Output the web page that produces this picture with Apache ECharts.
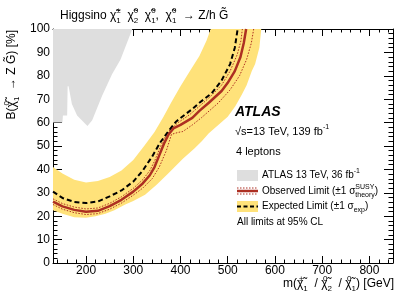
<!DOCTYPE html>
<html><head><meta charset="utf-8">
<script src="https://cdn.jsdelivr.net/npm/echarts@6/dist/echarts.min.js"></script>
<style>html,body{margin:0;padding:0;background:#fff}#c{width:407px;height:292px}</style>
</head><body><div id="c"></div>
<script>
// ---- data ----
const xTicks = [200, 300, 400, 500, 600, 700, 800];
const yTicks = [0, 10, 20, 30, 40, 50, 60, 70, 80, 90, 100];

const obsMass = [130,150,175,200,225,250,275,300,320,335,345,355,365,375,385,400,425,440,460,487,500,515,527,534,539];
const obsBR   = [26.2,24.2,22.7,21.9,22.3,24.3,27,30.5,34,37.5,41,46,51,55,57.5,59,62,65,68.5,73.5,77,82,88,94,100];

const thUpMass = [130,150,175,200,225,250,275,300,320,335,345,355,365,378,395,420,440,460,487,505,520,528,531];
const thUpBR   = [27.4,25.4,23.9,23.1,23.5,25.5,28.3,31.9,35.6,39.5,43.5,48.5,53,57,60,63.5,67,70.5,76,82,89,95,100];

const thDnMass = [130,150,175,200,225,250,275,300,320,340,355,370,381,395,405,425,445,480,505,525,540,550,555];
const thDnBR   = [25,23,21.5,20.7,21.1,23,25.6,29,32,36,41,48,55,55.8,56.2,59,62.2,68.4,74,80,87,94,100];

const expMass = [130,150,175,200,225,250,275,300,320,340,357,375,391,410,425,440,466,487,505,515,521];
const expBR   = [30.5,27.8,26.1,25.6,26.3,28.5,31,34.8,39.5,45.5,51.5,56.5,60.5,63.5,65.8,68.5,72.5,78,85,92,100];

const bandUpMass = [130,150,175,200,225,250,275,300,323,345,364,380,400,420,440,455,464];
const bandUpBR   = [41,38.3,35.6,34.4,35,36.8,39.5,44,50,56,62.5,68.5,75.5,82,88.5,95,100];
const bandDnMass = [571,567,558,551,540,530,516,500,480,460,445,430,405,375,350,325,300,283,260,241,220,200,175,150,130];
const bandDnBR   = [100,92,85,82,76,72,67,62.5,59,55.5,52,49,44.5,38.5,33.5,29.2,26.5,25,22.5,21,20,19.3,19.6,21,22.5];

const greyMass = [130,150,151,160,161,163,170,181,203,213,234,255,273,298,130];
const greyBR   = [60,60,63,63,75.5,75.5,68,63,58.5,61,71.5,80.7,87,100,100];

// ---- chart ----
const F = 'Liberation Sans, Arial, Helvetica, sans-serif';
const RED = '#ad2f22';
const YEL = '#ffe27a';
const GREY = '#dedede';

function pairs(a, b) { return a.map((v, i) => [v, b[i]]); }
function polygon(points, color, z) {
  return {
    type: 'custom', z: z, silent: true, animation: false,
    data: [[500, 50]],
    renderItem: (params, api) => ({
      type: 'polygon',
      shape: { points: points.map(p => api.coord(p)) },
      style: { fill: color, stroke: null }
    })
  };
}
function rich(fs) {
  return {
    n:  { fontSize: fs, fontFamily: F, color: '#000', lineHeight: Math.round(fs * 1.5) },
    sp: { fontSize: Math.round(fs * 0.66), fontFamily: F, color: '#000', verticalAlign: 'top', lineHeight: Math.round(fs * 0.85), width: 0 },
    up: { fontSize: Math.round(fs * 0.66), fontFamily: F, color: '#000', verticalAlign: 'top', lineHeight: Math.round(fs * 0.85) },
    sb: { fontSize: Math.round(fs * 0.66), fontFamily: F, color: '#000', verticalAlign: 'bottom', lineHeight: Math.round(fs * 0.85) }
  };
}
function txt(x, y, text, fs, opts) {
  opts = opts || {};
  return {
    type: 'text', x: x, y: y, rotation: opts.rot || 0, z: 100,
    style: Object.assign({
      text: text, rich: rich(fs), fontSize: fs, fontFamily: F, fill: '#000',
      align: opts.align || 'left', verticalAlign: 'middle'
    }, opts.style || {})
  };
}

const axisCommon = {
  type: 'value',
  axisLine: { show: true, onZero: false, lineStyle: { color: '#000', width: 1 } },
  splitLine: { show: false },
  minorSplitLine: { show: false }
};

const chart = echarts.init(document.getElementById('c'), null, { renderer: 'canvas' });
chart.setOption({
  animation: false,
  backgroundColor: '#fff',
  grid: { left: 53, right: 14, top: 29, bottom: 29, containLabel: false },
  xAxis: [
    Object.assign({}, axisCommon, {
      min: 130, max: 850, minInterval: 100, maxInterval: 100, position: 'bottom',
      axisTick: { show: true, inside: true, length: 7, lineStyle: { color: '#000' } },
      minorTick: { show: true, splitNumber: 5, length: 3.5, lineStyle: { color: '#000' } },
      axisLabel: { show: true, color: '#000', fontSize: 12, fontFamily: F, margin: 2,
        formatter: v => xTicks.includes(v) ? String(v) : '' }
    }),
    Object.assign({}, axisCommon, {
      min: 130, max: 850, minInterval: 100, maxInterval: 100, position: 'top',
      axisTick: { show: true, inside: true, length: 7, lineStyle: { color: '#000' } },
      minorTick: { show: true, splitNumber: 5, length: 3.5, lineStyle: { color: '#000' } },
      axisLabel: { show: false }
    })
  ],
  yAxis: [
    Object.assign({}, axisCommon, {
      min: 0, max: 100, interval: 10, position: 'left',
      axisTick: { show: true, inside: true, length: 9, lineStyle: { color: '#000' } },
      minorTick: { show: true, splitNumber: 5, length: 4.5, lineStyle: { color: '#000' } },
      axisLabel: { show: true, color: '#000', fontSize: 12, fontFamily: F, margin: 3,
        formatter: v => yTicks.includes(v) ? String(v) : '' }
    }),
    Object.assign({}, axisCommon, {
      min: 0, max: 100, interval: 10, position: 'right',
      axisTick: { show: true, inside: true, length: 9, lineStyle: { color: '#000' } },
      minorTick: { show: true, splitNumber: 5, length: 4.5, lineStyle: { color: '#000' } },
      axisLabel: { show: false }
    })
  ],
  series: [
    polygon(pairs(greyMass, greyBR), GREY, 1),
    polygon(pairs(bandUpMass, bandUpBR).concat(pairs(bandDnMass, bandDnBR)), YEL, 2),
    { type: 'line', z: 3, symbol: 'none', silent: true, data: pairs(thUpMass, thUpBR),
      lineStyle: { color: RED, width: 1, type: [1.5, 1.5] } },
    { type: 'line', z: 3, symbol: 'none', silent: true, data: pairs(thDnMass, thDnBR),
      lineStyle: { color: RED, width: 1, type: [1.5, 1.5] } },
    { type: 'line', z: 4, symbol: 'none', silent: true, data: pairs(expMass, expBR),
      lineStyle: { color: '#000', width: 2, type: [5, 3] } },
    { type: 'line', z: 5, symbol: 'none', silent: true, data: pairs(obsMass, obsBR),
      lineStyle: { color: RED, width: 2.5 } }
  ],
  graphic: [
    txt(60, 16, '{n|Higgsino χ̃}{sp|±}{sb|1}{n|  χ̃}{sp|0}{sb|2}{n|  χ̃}{sp|0}{sb|1}{n|,  χ̃}{sp|0}{sb|1}{n|  → Z/h G̃}', 12),
    txt(12, 30, '{n|B(χ̃}{sp|0}{sb|1}{n|  → Z G̃) [%]}', 12, { align: 'right', rot: Math.PI / 2 }),
    txt(394, 284, '{n|m(χ̃}{sp|±}{sb|1}{n|  / χ̃}{sp|0}{sb|2}{n|  / χ̃}{sp|0}{sb|1}{n|) [GeV]}', 12, { align: 'right' }),
    txt(235, 112, 'ATLAS', 14, { style: { fontWeight: 'bold', fontStyle: 'italic' } }),
    txt(235, 132, '{n|√s=13 TeV, 139 fb}{up|-1}', 11),
    txt(236, 152, '4 leptons', 11),
    { type: 'rect', z: 100, shape: { x: 237, y: 170, width: 21, height: 11 }, style: { fill: GREY } },
    txt(262, 175.5, '{n|ATLAS 13 TeV, 36 fb}{up|-1}', 10),
    { type: 'line', z: 100, shape: { x1: 237, y1: 188, x2: 258, y2: 188 }, style: { stroke: RED, lineWidth: 1, lineDash: [1.5, 1.5] } },
    { type: 'line', z: 100, shape: { x1: 237, y1: 191, x2: 258, y2: 191 }, style: { stroke: RED, lineWidth: 2.5 } },
    { type: 'line', z: 100, shape: { x1: 237, y1: 194, x2: 258, y2: 194 }, style: { stroke: RED, lineWidth: 1, lineDash: [1.5, 1.5] } },
    txt(262, 191, '{n|Observed Limit (±1 σ}{sp|SUSY}{sb|theory}{n|)}', 10),
    { type: 'rect', z: 100, shape: { x: 237, y: 201, width: 21, height: 11 }, style: { fill: YEL } },
    { type: 'line', z: 101, shape: { x1: 237, y1: 206.5, x2: 258, y2: 206.5 }, style: { stroke: '#000', lineWidth: 2, lineDash: [4, 2.5] } },
    txt(262, 206.5, '{n|Expected Limit (±1 σ}{sb|exp}{n|)}', 10),
    txt(237, 222, 'All limits at 95% CL', 10)
  ]
});
</script></body></html>
